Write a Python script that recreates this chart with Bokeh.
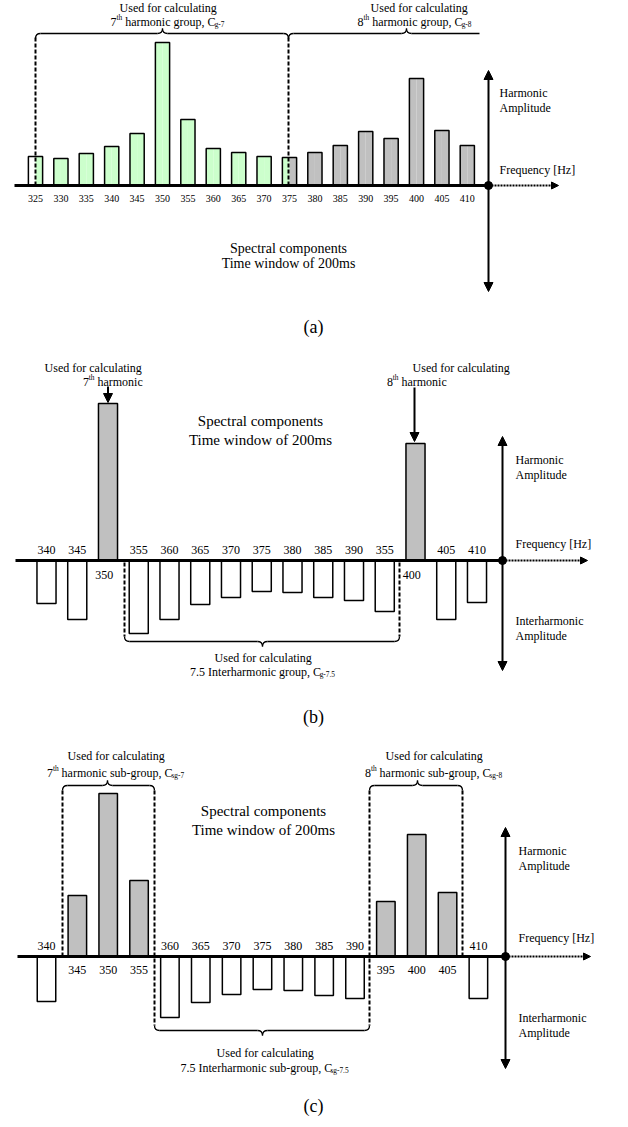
from bokeh.plotting import figure
from bokeh.layouts import column
from bokeh.models import Range1d, Arrow, NormalHead
from bokeh.embed import file_html
from bokeh.resources import INLINE
from bokeh.core.properties import value

FONT = "Liberation Serif"
GREEN = "#ccffcc"
GRAY = "#c0c0c0"

# ---------------- data ----------------
# panel (a): spectral components, 200 ms window
a_freq = [325, 330, 335, 340, 345, 350, 355, 360, 365, 370, 375, 380, 385, 390, 395, 400, 405, 410]
a_amp = [29, 27, 32, 39, 52, 143, 66, 37, 33, 29, 28, 33, 40, 54, 47, 107, 55, 40]
a_labels = ["325", "330", "335", "340", "345", "350", "355", "360", "365", "370", "375",
            "380", "385", "390", "395", "400", "405", "410"]
a_group7 = (325, 375)
a_group8 = (375, 410)

# panel (b): harmonic / interharmonic group
b_harm_freq = [350, 400]
b_harm_amp = [157, 117]
b_harm_labels = ["350", "400"]
b_inter_freq = [340, 345, 355, 360, 365, 370, 375, 380, 385, 390, 395, 405, 410]
b_inter_amp = [43, 59, 73, 59, 44, 37, 31, 32, 37, 40, 51, 59, 42]
b_inter_labels = ["340", "345", "355", "360", "365", "370", "375", "380", "385", "390", "355", "405", "410"]

# panel (c): sub-groups
c_harm_freq = [345, 350, 355, 395, 400, 405]
c_harm_amp = [61, 163, 76, 55, 122, 64]
c_harm_labels = ["345", "350", "355", "395", "400", "405"]
c_inter_freq = [340, 360, 365, 370, 375, 380, 385, 390, 410]
c_inter_amp = [45, 61, 46, 38, 33, 34, 39, 42, 42]
c_inter_labels = ["340", "360", "365", "370", "375", "380", "385", "390", "410"]

# --------------- helpers ---------------
TW = {' ': 250, 'a': 444, 'b': 500, 'c': 444, 'd': 500, 'e': 444, 'f': 333, 'g': 500, 'h': 500,
      'i': 278, 'j': 278, 'k': 500, 'l': 278, 'm': 778, 'n': 500, 'o': 500, 'p': 500, 'q': 500,
      'r': 333, 's': 389, 't': 278, 'u': 500, 'v': 500, 'w': 722, 'x': 500, 'y': 500, 'z': 444,
      ',': 250, '-': 333, '.': 250, 'C': 667, 'I': 333, 'U': 722, 'S': 556, 'T': 611, 'H': 722,
      'A': 722, 'F': 556, '[': 333, ']': 333, '(': 333, ')': 333}


def tw(s, size):
    return sum(TW.get(ch, 500) for ch in s) * size / 1000.0 * 0.985


def make_panel(top, bottom, base_y, f0, x0, k):
    W = 620
    H = bottom - top
    xs = f0 - x0 / k
    p = figure(width=W, height=H, x_range=Range1d(xs, xs + W / k),
               y_range=Range1d(base_y - bottom, base_y - top),
               output_backend="svg", toolbar_location=None, min_border=0,
               x_axis_location=None, y_axis_location=None)
    p.grid.visible = False
    p.outline_line_color = None
    p.background_fill_color = "white"
    p.border_fill_color = "white"

    def X(px):
        return f0 + (px - x0) / k

    def Y(py):
        return base_y - py
    return p, X, Y


def rich(p, X, Y, cx, cy, runs, size, align="center"):
    sizes = [size if kind == "n" else size * 0.62 for t, kind in runs]
    widths = [tw(t, s) + (0.5 if kind == "sub" else 0.0) for (t, kind), s in zip(runs, sizes)]
    total = sum(widths)
    x = cx - total / 2 if align == "center" else cx
    for (t, kind), s, w in zip(runs, sizes, widths):
        dy = {"n": 0, "sup": -size * 0.33, "sub": size * 0.28}[kind]
        lead = len(t) - len(t.lstrip(" "))
        xt = x + tw(" " * lead, s) + (0.5 if kind == "sub" else 0.0)
        p.text(x=[X(xt)], y=[Y(cy + dy)], text=[t.strip(" ")], text_font=value(FONT),
               text_font_size=f"{s:.1f}px", text_align="left", text_baseline="middle",
               text_color="black")
        x += w


def label(p, X, Y, x, y, t, size, align="center"):
    p.text(x=[X(x)], y=[Y(y)], text=[t], text_font=value(FONT), text_font_size=f"{size}px",
           text_align=align, text_baseline="middle", text_color="black")


def brace(p, X, Y, x1, x2, xt, yl, d, tip_down, right_curl=True):
    s = 1 if tip_down else -1
    kw = dict(line_color="black", line_width=1.3)
    p.quadratic(x0=[X(x1)], y0=[Y(yl - s * d)], x1=[X(x1 + d)], y1=[Y(yl)], cx=[X(x1)], cy=[Y(yl)], **kw)
    p.line([X(x1 + d), X(xt - d)], [Y(yl), Y(yl)], **kw)
    p.quadratic(x0=[X(xt - d)], y0=[Y(yl)], x1=[X(xt)], y1=[Y(yl + s * d)], cx=[X(xt)], cy=[Y(yl)], **kw)
    p.quadratic(x0=[X(xt)], y0=[Y(yl + s * d)], x1=[X(xt + d)], y1=[Y(yl)], cx=[X(xt)], cy=[Y(yl)], **kw)
    if right_curl:
        p.line([X(xt + d), X(x2 - d)], [Y(yl), Y(yl)], **kw)
        p.quadratic(x0=[X(x2 - d)], y0=[Y(yl)], x1=[X(x2)], y1=[Y(yl - s * d)], cx=[X(x2)], cy=[Y(yl)], **kw)
    else:
        p.line([X(xt + d), X(x2)], [Y(yl), Y(yl)], **kw)


def dashed(p, X, Y, x, y1, y2):
    p.line([X(x), X(x)], [Y(y1), Y(y2)], line_color="black", line_width=2, line_dash="4 2")


def arrow(p, X, Y, x1, y1, x2, y2, dash=None, size=9):
    a = Arrow(end=NormalHead(size=size, fill_color="black", line_color="black", line_width=1),
              x_start=X(x1), y_start=Y(y1), x_end=X(x2), y_end=Y(y2),
              line_color="black", line_width=2)
    if dash:
        a.line_dash = dash
    p.add_layout(a)


def axes_block(p, X, Y, base, ax_x, x_left, top_y, bot_y, arrow_end, lab_x, harm_y, freq_y, inter_y=None, size=12):
    p.line([X(x_left), X(ax_x)], [Y(base), Y(base)], line_color="black", line_width=3)
    arrow(p, X, Y, ax_x, base, ax_x, top_y)
    arrow(p, X, Y, ax_x, base, ax_x, bot_y)
    arrow(p, X, Y, ax_x, base, arrow_end, base, dash="2 1", size=7)
    p.scatter([X(ax_x)], [Y(base)], size=8, color="black")
    label(p, X, Y, lab_x, harm_y, "Harmonic", size, "left")
    label(p, X, Y, lab_x, harm_y + 15, "Amplitude", size, "left")
    label(p, X, Y, lab_x, freq_y, "Frequency [Hz]", size, "left")
    if inter_y is not None:
        label(p, X, Y, lab_x, inter_y, "Interharmonic", size, "left")
        label(p, X, Y, lab_x, inter_y + 15, "Amplitude", size, "left")


# =============== panel (a) ===============
pa, Xa, Ya = make_panel(0, 340, 185, 325, 35, 5.08)
wa = 2.8


def half_color(f, side):
    if side == "L":
        if a_group7[0] < f <= a_group7[1]:
            return GREEN
        if a_group8[0] < f <= a_group8[1]:
            return GRAY
        return "white"
    if a_group7[0] <= f < a_group7[1]:
        return GREEN
    if a_group8[0] <= f <= a_group8[1]:
        return GRAY
    return "white"


pa.vbar(x=[f - wa / 4 for f in a_freq], top=a_amp, bottom=0, width=wa / 2,
        fill_color=[half_color(f, "L") for f in a_freq], line_color=None)
pa.vbar(x=[f + wa / 4 for f in a_freq], top=a_amp, bottom=0, width=wa / 2,
        fill_color=[half_color(f, "R") for f in a_freq], line_color=None)
pa.vbar(x=a_freq, top=a_amp, bottom=0, width=wa, fill_color=None, line_color="black", line_width=1.5)
pa.text(x=a_freq, y=[Ya(198)] * len(a_freq), text=a_labels, text_font=value(FONT),
        text_font_size="10px", text_align="center", text_baseline="middle")

axes_block(pa, Xa, Ya, 185, 488, 14, 70, 291, 558, 499, 92, 169)
dashed(pa, Xa, Ya, 35, 37, 185)
dashed(pa, Xa, Ya, 288, 37, 185)
brace(pa, Xa, Ya, 35, 288, 162, 33, 5, tip_down=False)
brace(pa, Xa, Ya, 288, 479, 406, 33, 5, tip_down=False, right_curl=False)
rich(pa, Xa, Ya, 167, 7, [("Used for calculating", "n")], 12)
rich(pa, Xa, Ya, 167, 21, [("7", "n"), ("th", "sup"), (" harmonic group, C", "n"), ("g-7", "sub")], 12)
rich(pa, Xa, Ya, 418, 7, [("Used for calculating", "n")], 12)
rich(pa, Xa, Ya, 414, 21, [("8", "n"), ("th", "sup"), (" harmonic group, C", "n"), ("g-8", "sub")], 12)
label(pa, Xa, Ya, 288, 248, "Spectral components", 14)
label(pa, Xa, Ya, 288, 263, "Time window of 200ms", 14)
label(pa, Xa, Ya, 313, 326, "(a)", 18)

# =============== panel (b) ===============
pb, Xb, Yb = make_panel(340, 728, 560, 350, 107.5, 6.15)
wb = 3.1
pb.vbar(x=b_harm_freq, top=b_harm_amp, bottom=0, width=wb, fill_color=GRAY, line_color="black", line_width=1.5)
pb.vbar(x=b_inter_freq, top=0, bottom=[-v for v in b_inter_amp], width=wb, fill_color="white",
        line_color="black", line_width=1.5)
pb.text(x=b_inter_freq, y=[Yb(549)] * len(b_inter_freq), text=b_inter_labels, text_font=value(FONT),
        text_font_size="12px", text_align="center", text_baseline="middle")
pb.text(x=[f - 0.6 for f in b_harm_freq], y=[Yb(574)] * len(b_harm_freq), text=b_harm_labels,
        text_font=value(FONT), text_font_size="12px", text_align="center", text_baseline="middle")

axes_block(pb, Xb, Yb, 560, 502, 15, 436, 670, 587, 515, 459, 543, inter_y=620)
dashed(pb, Xb, Yb, 124, 562, 636)
dashed(pb, Xb, Yb, 399, 562, 636)
brace(pb, Xb, Yb, 124, 399, 262, 641, 5, tip_down=True)
rich(pb, Xb, Yb, 262, 657, [("Used for calculating", "n")], 12)
rich(pb, Xb, Yb, 262, 671, [("7.5 Interharmonic group, C", "n"), ("g-7.5", "sub")], 12)
rich(pb, Xb, Yb, 92, 367, [("Used for calculating", "n")], 12)
rich(pb, Xb, Yb, 112, 381, [("7", "n"), ("th", "sup"), (" harmonic", "n")], 12)
rich(pb, Xb, Yb, 460, 367, [("Used for calculating", "n")], 12)
rich(pb, Xb, Yb, 416, 381, [("8", "n"), ("th", "sup"), (" harmonic", "n")], 12)
arrow(pb, Xb, Yb, 107.5, 386, 107.5, 402)
arrow(pb, Xb, Yb, 414, 387, 414, 441)
label(pb, Xb, Yb, 260, 420, "Spectral components", 15)
label(pb, Xb, Yb, 260, 439, "Time window of 200ms", 15)
label(pb, Xb, Yb, 313, 716, "(b)", 18)

# =============== panel (c) ===============
pc, Xc, Yc = make_panel(728, 1119, 956, 340, 46, 6.17)
wc = 3.0
pc.vbar(x=c_harm_freq, top=c_harm_amp, bottom=0, width=wc, fill_color=GRAY, line_color="black", line_width=1.5)
pc.vbar(x=c_inter_freq, top=0, bottom=[-v for v in c_inter_amp], width=wc, fill_color="white",
        line_color="black", line_width=1.5)
pc.text(x=c_inter_freq, y=[Yc(945)] * len(c_inter_freq), text=c_inter_labels, text_font=value(FONT),
        text_font_size="12px", text_align="center", text_baseline="middle")
pc.text(x=c_harm_freq, y=[Yc(969)] * len(c_harm_freq), text=c_harm_labels, text_font=value(FONT),
        text_font_size="12px", text_align="center", text_baseline="middle")

axes_block(pc, Xc, Yc, 956, 505, 17, 827, 1068, 590, 518, 850, 937, inter_y=1017)
dashed(pc, Xc, Yc, 62, 790, 956)
dashed(pc, Xc, Yc, 154, 790, 1025)
dashed(pc, Xc, Yc, 369, 790, 1025)
dashed(pc, Xc, Yc, 462, 790, 956)
brace(pc, Xc, Yc, 62, 154, 107, 785, 5, tip_down=False)
brace(pc, Xc, Yc, 369, 462, 417, 785, 5, tip_down=False)
brace(pc, Xc, Yc, 154, 369, 262, 1030, 5, tip_down=True)
rich(pc, Xc, Yc, 115, 755, [("Used for calculating", "n")], 12)
rich(pc, Xc, Yc, 115, 772, [("7", "n"), ("th", "sup"), (" harmonic sub-group, C", "n"), ("sg-7", "sub")], 12)
rich(pc, Xc, Yc, 433, 755, [("Used for calculating", "n")], 12)
rich(pc, Xc, Yc, 433, 772, [("8", "n"), ("th", "sup"), (" harmonic sub-group, C", "n"), ("sg-8", "sub")], 12)
rich(pc, Xc, Yc, 264, 1052, [("Used for calculating", "n")], 12)
rich(pc, Xc, Yc, 264, 1067, [("7.5 Interharmonic sub-group, C", "n"), ("sg-7.5", "sub")], 12)
label(pc, Xc, Yc, 263, 810, "Spectral components", 15)
label(pc, Xc, Yc, 263, 829, "Time window of 200ms", 15)
label(pc, Xc, Yc, 313, 1105, "(c)", 18)

layout = column(pa, pb, pc, spacing=0)
open("out.html", "w").write(file_html(layout, INLINE))
